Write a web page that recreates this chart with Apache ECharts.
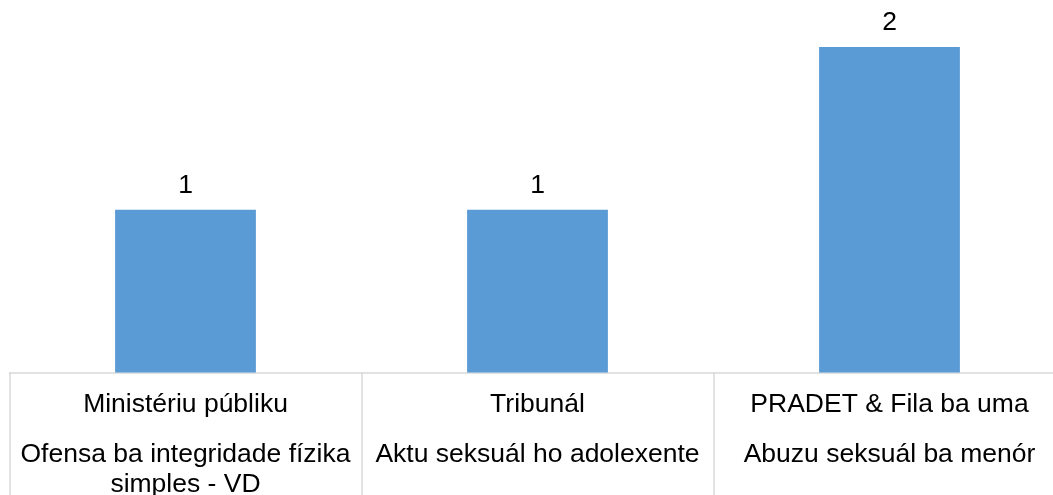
<!DOCTYPE html>
<html>
<head>
<meta charset="utf-8">
<script src="https://cdn.jsdelivr.net/npm/echarts@6/dist/echarts.min.js"></script>
<style>
  html, body { margin: 0; padding: 0; background: #fff; }
  #chart { width: 1053px; height: 495px; }
</style>
</head>
<body>
<div id="chart"></div>
<script>
// category labels: institution + case type (second part may wrap)
var institutions = ["Ministériu públiku", "Tribunál", "PRADET & Fila ba uma"];
var caseTypes = ["Ofensa ba integridade fízika\nsimples - VD", "Aktu seksuál ho adolexente", "Abuzu seksuál ba menór"];
var counts = [1, 1, 2];

var chart = echarts.init(document.getElementById("chart"));

var option = {
  animation: false,
  textStyle: { fontFamily: "Liberation Sans, Arial, sans-serif" },
  // last category runs past the right edge of the picture
  grid: { left: 9.5, width: 1056, top: 47, bottom: 122.5, containLabel: false, outerBoundsMode: "none" },
  xAxis: {
    type: "category",
    data: institutions,
    axisLine: { show: true, lineStyle: { color: "#d9d9d9", width: 1.5 } },
    axisTick: { show: true, alignWithLabel: false, length: 125, lineStyle: { color: "#d9d9d9", width: 1.5 } },
    axisLabel: {
      interval: 0,
      margin: -2,
      verticalAlign: "top",
      formatter: function (value, idx) {
        var lines = caseTypes[idx].split("\n").map(function (s) { return "{b|" + s + "}"; });
        return "{a|" + value + "}\n" + lines.join("\n");
      },
      rich: {
        a: { fontSize: 26.5, lineHeight: 69, color: "#000", fontFamily: "Liberation Sans" },
        b: { fontSize: 26.5, lineHeight: 30, color: "#000", fontFamily: "Liberation Sans" }
      }
    }
  },
  yAxis: {
    type: "value",
    min: 0,
    max: 2,
    show: false,
    splitLine: { show: false }
  },
  series: [
    {
      type: "bar",
      data: counts,
      barWidth: "40%",
      itemStyle: { color: "#5B9BD5" },
      label: {
        show: true,
        position: "top",
        distance: 11,
        fontSize: 26.5,
        color: "#000",
        fontFamily: "Liberation Sans"
      }
    }
  ]
};

chart.setOption(option);
</script>
</body>
</html>
